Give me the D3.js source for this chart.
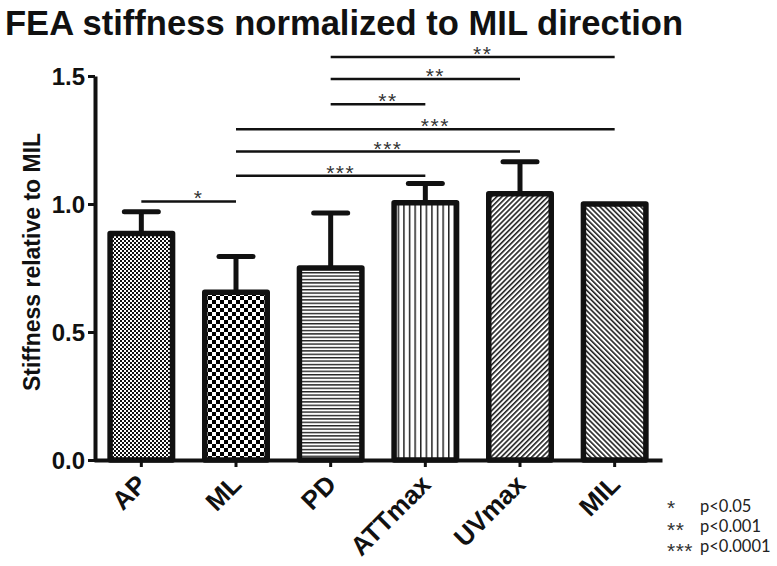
<!DOCTYPE html>
<html>
<head>
<meta charset="utf-8">
<script src="https://cdn.jsdelivr.net/npm/d3@7"></script>
<style>
  html, body { margin: 0; padding: 0; background: #fff; }
  svg { display: block; }
</style>
</head>
<body>
<svg id="chart" width="777" height="566"></svg>
<script>
// ---- data ----
const categories = ["AP", "ML", "PD", "ATTmax", "UVmax", "MIL"];
const means = [0.885, 0.655, 0.75, 1.005, 1.04, 1.0];
const sdUpper = [0.085, 0.14, 0.215, 0.075, 0.125, 0.0];
const yTicks = [0.0, 0.5, 1.0, 1.5];

// significance comparisons
const compFrom = ["AP", "ML", "ML", "ML", "PD", "PD", "PD"];
const compTo = ["ML", "ATTmax", "UVmax", "MIL", "ATTmax", "UVmax", "MIL"];
const compLevel = [1.01, 1.11, 1.205, 1.292, 1.39, 1.488, 1.574];
const compStars = ["*", "***", "***", "***", "**", "**", "**"];

const legendStars = ["*", "**", "***"];
const legendText = ["p<0.05", "p<0.001", "p<0.0001"];

const titleText = "FEA stiffness normalized to MIL direction";
const yLabel = "Stiffness relative to MIL";

// ---- drawing ----
const svg = d3.select("#chart");
const patternIds = ["pFineCheck", "pCheck", "pHLines", "pVLines", "pDiagUp", "pDiagDown"];

const defs = svg.append("defs");
// fine checkerboard
let p = defs.append("pattern").attr("id", "pFineCheck").attr("patternUnits", "userSpaceOnUse")
  .attr("width", 4).attr("height", 4);
p.append("rect").attr("width", 4).attr("height", 4).attr("fill", "#fff");
p.append("rect").attr("width", 2).attr("height", 2).attr("fill", "#111");
p.append("rect").attr("x", 2).attr("y", 2).attr("width", 2).attr("height", 2).attr("fill", "#111");
// coarse checkerboard
p = defs.append("pattern").attr("id", "pCheck").attr("patternUnits", "userSpaceOnUse")
  .attr("width", 8).attr("height", 8);
p.append("rect").attr("width", 8).attr("height", 8).attr("fill", "#fff");
p.append("rect").attr("width", 4).attr("height", 4).attr("fill", "#000");
p.append("rect").attr("x", 4).attr("y", 4).attr("width", 4).attr("height", 4).attr("fill", "#000");
// horizontal lines
p = defs.append("pattern").attr("id", "pHLines").attr("patternUnits", "userSpaceOnUse")
  .attr("width", 4).attr("height", 3.4);
p.append("rect").attr("width", 4).attr("height", 3.4).attr("fill", "#fff");
p.append("rect").attr("width", 4).attr("height", 1.4).attr("fill", "#222");
// vertical lines
p = defs.append("pattern").attr("id", "pVLines").attr("patternUnits", "userSpaceOnUse")
  .attr("width", 5.6).attr("height", 4);
p.append("rect").attr("width", 5.6).attr("height", 4).attr("fill", "#fff");
p.append("rect").attr("width", 1.5).attr("height", 4).attr("fill", "#222");
// diagonal "/"
p = defs.append("pattern").attr("id", "pDiagUp").attr("patternUnits", "userSpaceOnUse")
  .attr("width", 3.6).attr("height", 4).attr("patternTransform", "rotate(45)");
p.append("rect").attr("width", 3.6).attr("height", 4).attr("fill", "#fff");
p.append("rect").attr("width", 1.6).attr("height", 4).attr("fill", "#222");
// diagonal "\"
p = defs.append("pattern").attr("id", "pDiagDown").attr("patternUnits", "userSpaceOnUse")
  .attr("width", 3.6).attr("height", 4).attr("patternTransform", "rotate(-45)");
p.append("rect").attr("width", 3.6).attr("height", 4).attr("fill", "#fff");
p.append("rect").attr("width", 1.6).attr("height", 4).attr("fill", "#222");

const x = d3.scaleBand().domain(categories).range([94, 662]).paddingInner(0.34).paddingOuter(0.17);
const y = d3.scaleLinear().domain([0, 1.5]).range([460, 76]);
const cx = c => x(c) + x.bandwidth() / 2;

// title
svg.append("text")
  .attr("x", 5).attr("y", 35)
  .attr("font-family", "'Liberation Sans Narrow', 'Arial Narrow', 'Liberation Sans', Arial, sans-serif")
  .attr("font-weight", "bold").attr("font-size", 35)
  .attr("textLength", 678).attr("lengthAdjust", "spacingAndGlyphs")
  .attr("fill", "#111")
  .text(titleText);

// y label
svg.append("text")
  .attr("transform", "translate(40,262) rotate(-90)")
  .attr("text-anchor", "middle")
  .attr("font-family", "'Liberation Sans', Arial, sans-serif")
  .attr("font-weight", "bold").attr("font-size", 23)
  .attr("fill", "#111")
  .text(yLabel);

// error bars (upper only)
const eb = svg.append("g");
categories.forEach((c, i) => {
  if (sdUpper[i] > 0) {
    eb.append("line").attr("x1", cx(c)).attr("x2", cx(c))
      .attr("y1", y(means[i])).attr("y2", y(means[i] + sdUpper[i]))
      .attr("stroke", "#111").attr("stroke-width", 5);
    eb.append("line").attr("x1", cx(c) - 17).attr("x2", cx(c) + 17)
      .attr("y1", y(means[i] + sdUpper[i])).attr("y2", y(means[i] + sdUpper[i]))
      .attr("stroke", "#111").attr("stroke-width", 5).attr("stroke-linecap", "round");
  }
});

// bars
svg.append("g").selectAll("rect").data(categories).join("rect")
  .attr("x", c => x(c))
  .attr("width", x.bandwidth())
  .attr("y", (c, i) => y(means[i]))
  .attr("height", (c, i) => y(0) - y(means[i]))
  .attr("fill", (c, i) => `url(#${patternIds[i]})`)
  .attr("stroke", "#111").attr("stroke-width", 5.5)
  .attr("stroke-linejoin", "round");

// axes
const yAxis = svg.append("g").attr("transform", "translate(95,0)")
  .call(d3.axisLeft(y).tickValues(yTicks).tickFormat(d3.format(".1f")).tickSize(7).tickSizeOuter(0));
yAxis.select(".domain").attr("stroke", "#111").attr("stroke-width", 4);
yAxis.selectAll(".tick line").attr("stroke", "#111").attr("stroke-width", 3);
yAxis.selectAll(".tick text")
  .attr("font-family", "'Liberation Sans', Arial, sans-serif")
  .attr("font-weight", "bold").attr("font-size", 24).attr("fill", "#111")
  .attr("x", -10).attr("dy", "0.36em");

const xAxis = svg.append("g").attr("transform", "translate(0,460)")
  .call(d3.axisBottom(x).tickSize(7).tickSizeOuter(0));
xAxis.select(".domain").attr("stroke", "#111").attr("stroke-width", 4);
xAxis.selectAll(".tick line").attr("stroke", "#111").attr("stroke-width", 3);
xAxis.selectAll(".tick text")
  .attr("font-family", "'Liberation Sans', Arial, sans-serif")
  .attr("font-weight", "bold").attr("font-size", 26).attr("fill", "#111")
  .attr("text-anchor", "end")
  .attr("dy", 0).attr("y", 0)
  .attr("transform", "translate(7,26) rotate(-45)");

// significance lines
const sig = svg.append("g");
compFrom.forEach((f, i) => {
  const x1 = cx(f), x2 = cx(compTo[i]), yy = y(compLevel[i]);
  sig.append("line").attr("x1", x1).attr("x2", x2).attr("y1", yy).attr("y2", yy)
    .attr("stroke", "#111").attr("stroke-width", 2.5);
  sig.append("text").attr("x", (x1 + x2) / 2 + 10).attr("y", yy + 4)
    .attr("text-anchor", "middle")
    .attr("font-family", "'Liberation Sans', Arial, sans-serif").attr("font-size", 21)
    .attr("letter-spacing", 1.5).attr("fill", "#333")
    .text(compStars[i]);
});

// legend
const lg = svg.append("g");
legendStars.forEach((s, i) => {
  lg.append("text").attr("x", 667).attr("y", 515 + i * 21.5)
    .attr("font-family", "'Liberation Sans', Arial, sans-serif").attr("font-size", 21)
    .attr("letter-spacing", 0.5).attr("fill", "#333").text(s);
  lg.append("text").attr("x", 700).attr("y", 512 + i * 20)
    .attr("font-family", "Lato, 'Open Sans', sans-serif").attr("font-size", 16.5)
    .attr("fill", "#222").text(legendText[i]);
});
</script>
</body>
</html>
